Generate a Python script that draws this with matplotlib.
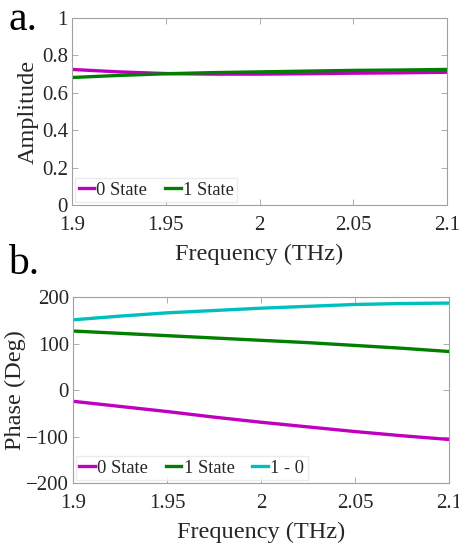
import matplotlib.pyplot as plt
import numpy as np

plt.rcParams["font.family"] = ["Liberation Serif", "DejaVu Serif"]

# ── Data ──────────────────────────────────────────────────────────────────────
freq = [1.90, 1.925, 1.95, 1.975, 2.00, 2.025, 2.05, 2.075, 2.10]

amp_0 = [0.725, 0.712, 0.703, 0.700, 0.700, 0.702, 0.705, 0.707, 0.710]
amp_1 = [0.682, 0.693, 0.702, 0.708, 0.712, 0.716, 0.720, 0.722, 0.725]

phase_0 = [-24, -35, -46, -58, -69, -79, -89, -98, -106]
phase_1 = [127, 122, 117, 112, 107, 102, 96, 90, 83]
phase_diff = [151, 159, 166, 171, 176, 180, 184, 186, 187]

xticks = [1.9, 1.95, 2.0, 2.05, 2.1]
xticklabels = ["1.9", "1.95", "2", "2.05", "2.1"]

c_mag = "#BF00BF"
c_grn = "#007F00"
c_cyn = "#00BFBF"
txt = "#262626"
edge = "#A0A0A0"
lw = 2.4


def style(ax):
    for s in ax.spines.values():
        s.set_color(edge)
        s.set_linewidth(0.8)
    ax.tick_params(direction="in", length=4, width=0.6, color=edge,
                   labelsize=15, labelcolor=txt, top=True, right=True, pad=3)
    ax.tick_params(axis="x", pad=8)
    ax.set_xlim(1.9, 2.1)
    ax.set_xticks(xticks)
    ax.set_xticklabels(xticklabels)
    ax.set_xlabel("Frequency (THz)", fontsize=17.5, color=txt, labelpad=6)


def legend(ax, ncol):
    ax.legend(loc="lower left", ncol=ncol, fontsize=13.3, frameon=True,
              fancybox=False, edgecolor="#E6E6E6", handlelength=0.85,
              handletextpad=0.12, columnspacing=0.95, borderpad=0.2,
              borderaxespad=0.15, labelcolor=txt)


fig = plt.figure(figsize=(4.59, 5.46), dpi=100)

# ── a. Amplitude ──────────────────────────────────────────────────────────────
ax1 = fig.add_axes([0.157, 0.6245, 0.817, 0.3425])
ax1.plot(freq, amp_0, color=c_mag, lw=lw, label="0 State")
ax1.plot(freq, amp_1, color=c_grn, lw=lw, label="1 State")
ax1.set_ylim(0, 1)
ax1.set_yticks([0, 0.2, 0.4, 0.6, 0.8, 1])
ax1.set_yticklabels(["0", "0.2", "0.4", "0.6", "0.8", "1"])
ax1.set_ylabel("Amplitude", fontsize=17.5, color=txt, labelpad=2)
style(ax1)
legend(ax1, 2)

# ── b. Phase ──────────────────────────────────────────────────────────────────
ax2 = fig.add_axes([0.159, 0.115, 0.819, 0.341])
ax2.plot(freq, phase_0, color=c_mag, lw=lw, label="0 State")
ax2.plot(freq, phase_1, color=c_grn, lw=lw, label="1 State")
ax2.plot(freq, phase_diff, color=c_cyn, lw=lw, label="1 - 0")
ax2.set_ylim(-200, 200)
ax2.set_yticks([-200, -100, 0, 100, 200])
ax2.set_ylabel("Phase (Deg)", fontsize=17.5, color=txt, labelpad=0)
style(ax2)
legend(ax2, 3)

fig.text(0.018, 1.0, "a.", fontsize=30, va="top", ha="left", color="black")
fig.text(0.018, 0.552, "b.", fontsize=30, va="top", ha="left", color="black")

fig.savefig("out.png", dpi=100)
